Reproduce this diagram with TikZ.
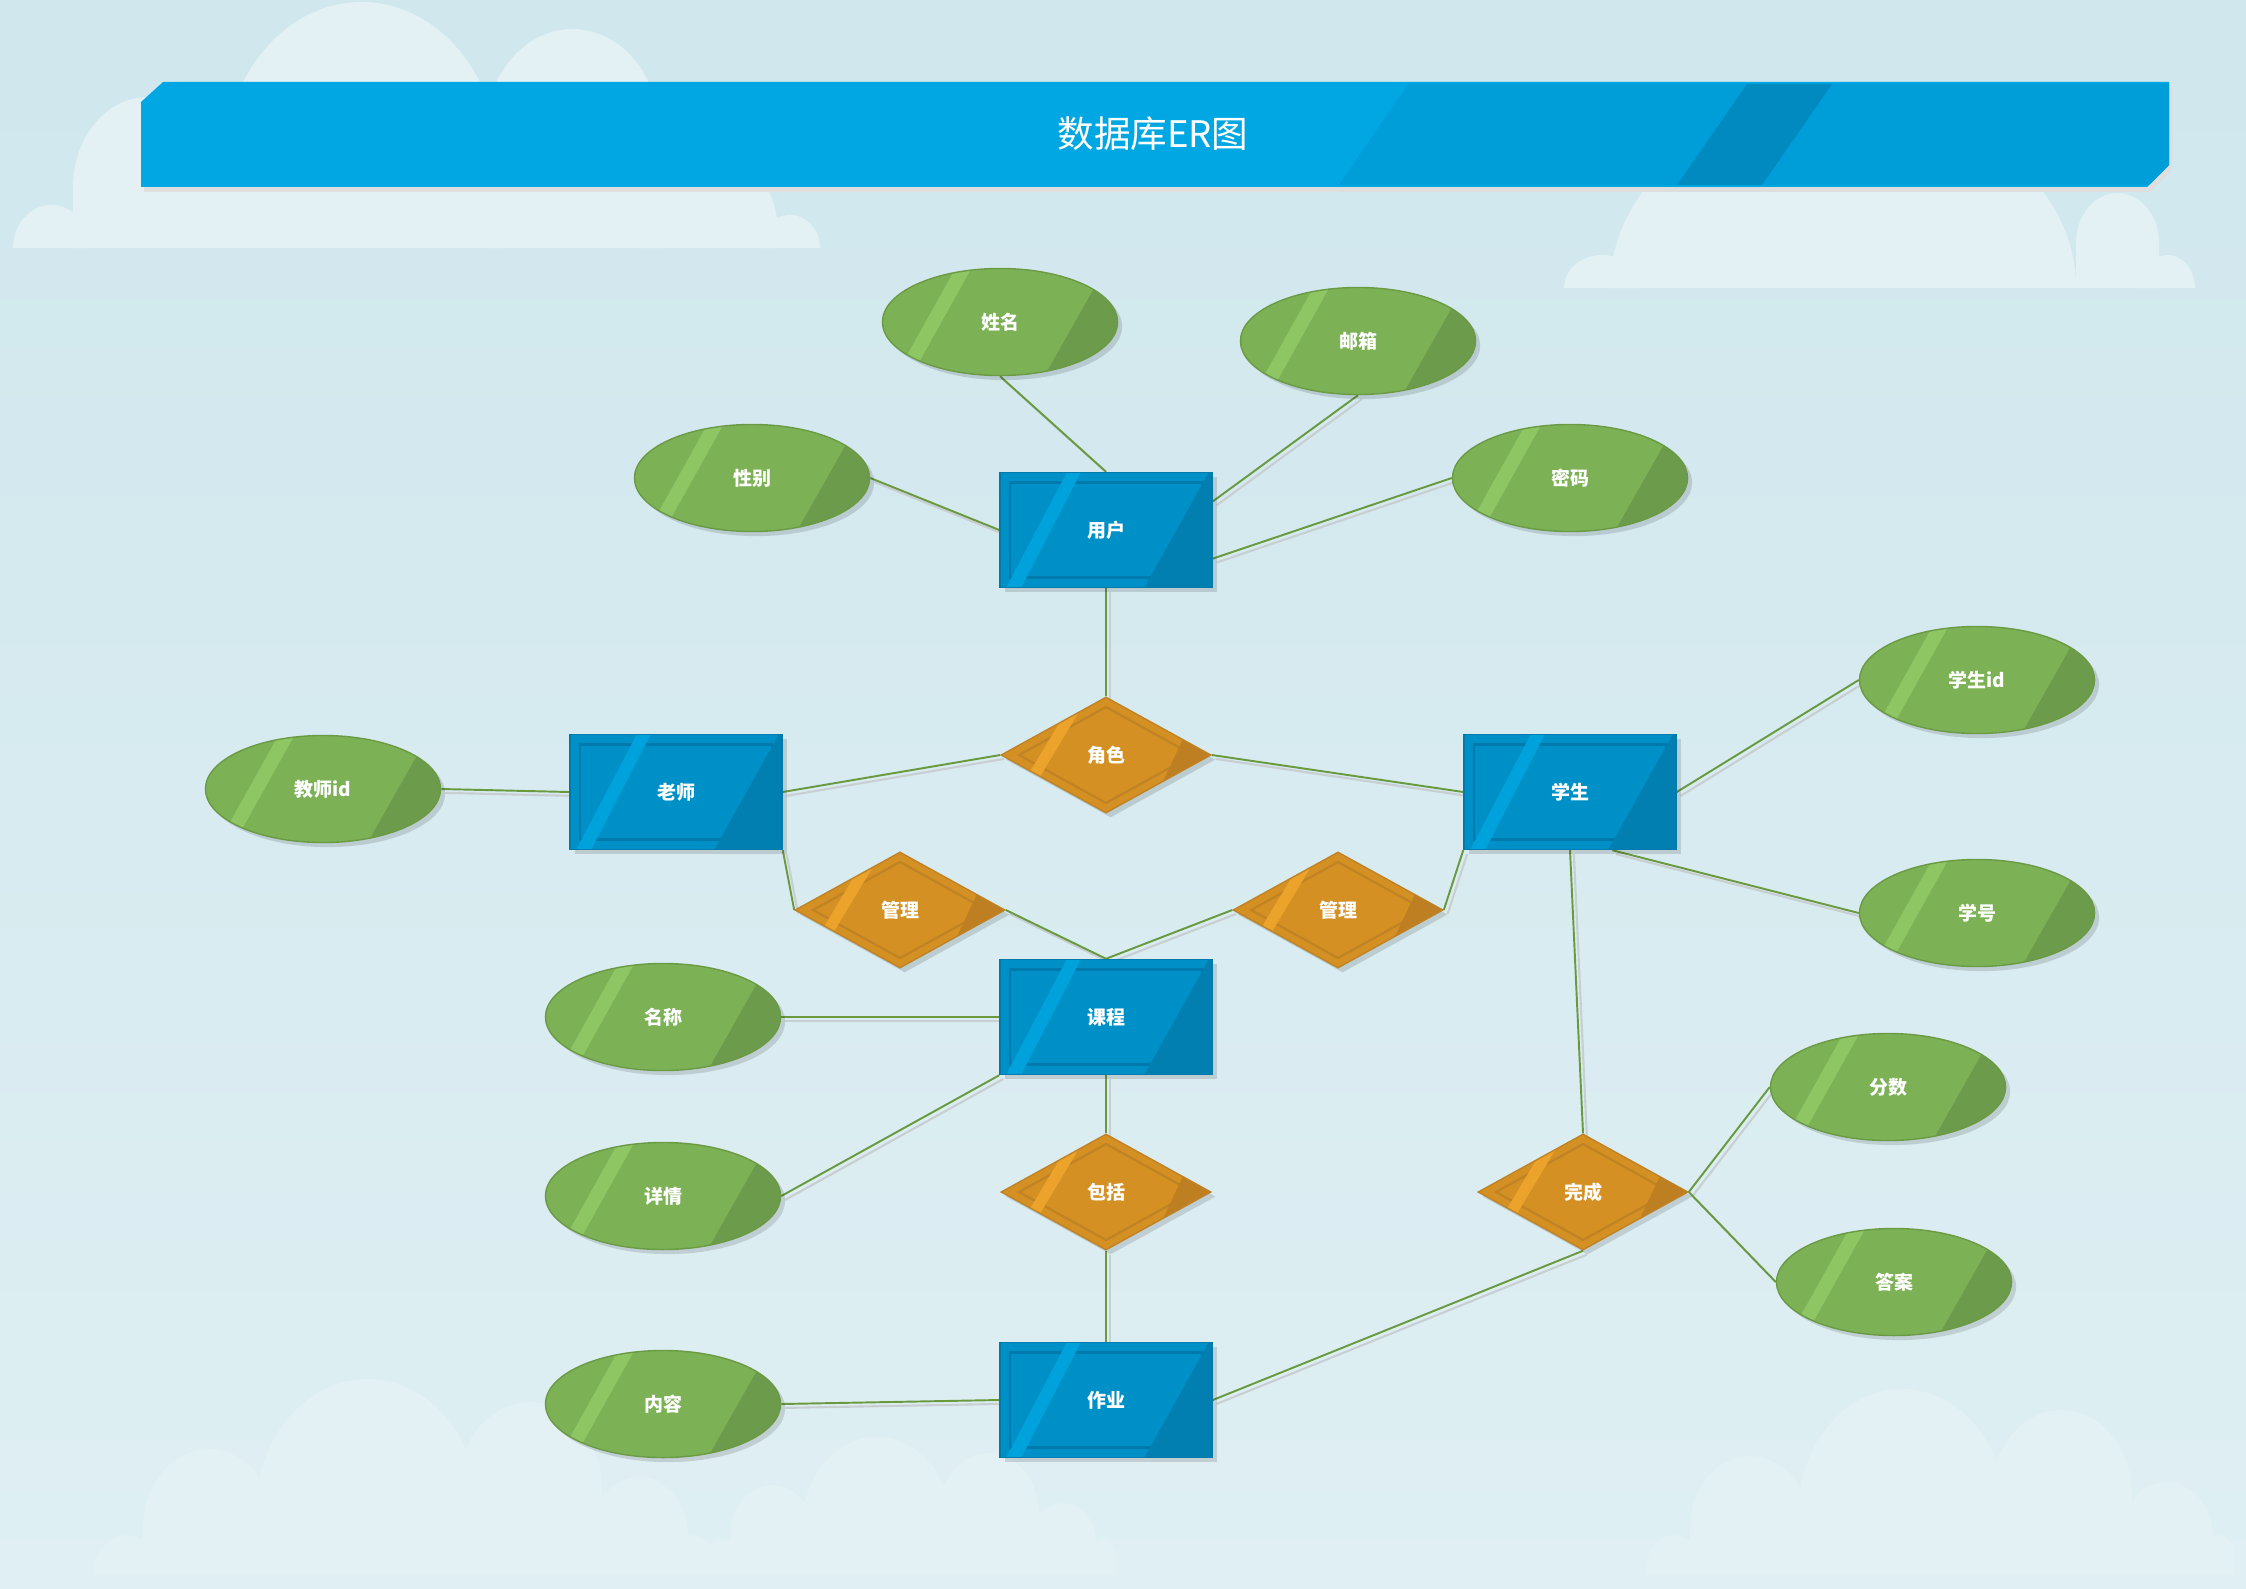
\documentclass[tikz,border=0pt]{standalone}
\usepackage{fontspec}
\setmainfont{Noto Sans CJK SC}
\usetikzlibrary{shapes.geometric,shadows}
\definecolor{bgtop}{HTML}{CFE7ED}
\definecolor{bgbot}{HTML}{DFEFF3}
\definecolor{cloudc}{HTML}{E3F1F4}
\definecolor{barblue}{HTML}{00A7E3}
\definecolor{bardark}{HTML}{009ED8}
\definecolor{barstripe}{HTML}{008AC0}
\definecolor{entfill}{HTML}{0090C8}
\definecolor{entlite}{HTML}{00A2DC}
\definecolor{entdark}{HTML}{007FB0}
\definecolor{entline}{HTML}{0079AD}
\definecolor{relfill}{HTML}{D49022}
\definecolor{rellite}{HTML}{EBA32C}
\definecolor{reldark}{HTML}{BD7F22}
\definecolor{relline}{HTML}{BF8326}
\definecolor{attfill}{HTML}{7CB156}
\definecolor{attlite}{HTML}{8DC663}
\definecolor{attdark}{HTML}{6C9B4C}
\definecolor{attline}{HTML}{6B9A45}
\definecolor{linkgreen}{HTML}{6A9940}
\definecolor{linkshadow}{HTML}{C8CFD2}
\newcommand{\erfont}{\fontsize{5.4}{6.5}\selectfont\bfseries}
\pgfdeclarelayer{back}
\pgfdeclarelayer{links}
\pgfsetlayers{back,links,main}
\tikzset{
  shade/.style    = {drop shadow={shadow xshift=1.3pt, shadow yshift=-1.3pt,
                     fill=black, opacity=0.13}},
  at centre/.code = {\pgftransformreset
                     \pgftransformshift{\pgfpointanchor{path picture bounding box}{center}}},
  entity/.style   = {rectangle, minimum width=2.12cm, minimum height=1.15cm,
                     fill=entfill, draw=entline, line width=0.4pt, shade,
                     text=white, font=\erfont,
                     path picture={
                       \begin{scope}[at centre]
                       \draw[entline, line width=0.6pt] (-96,-47.5) rectangle (96,47.5);
                       \fill[entlite] (-38,-60) -- (-24,-60) -- (-86,60) -- (-101,60) -- cycle;
                       \fill[entdark] (104,-60) -- (112,-60) -- (112,60) -- (37,60) -- cycle;
                       \end{scope}}},
  relation/.style = {diamond, minimum width=2.1cm, minimum height=1.16cm,
                     inner sep=0pt, fill=relfill, draw=relline, line width=0.4pt,
                     shade, text=white, font=\erfont,
                     path picture={
                       \begin{scope}[at centre]
                       \draw[relline, line width=0.6pt] (-87,0) -- (0,-48) -- (87,0) -- (0,48) -- cycle;
                       \fill[rellite] (-30,-60) -- (-17,-60) -- (-89,60) -- (-102,60) -- cycle;
                       \fill[reldark] (98,-60) -- (120,-60) -- (120,60) -- (41,60) -- cycle;
                       \end{scope}}},
  attrib/.style   = {ellipse, minimum width=2.35cm, minimum height=1.07cm,
                     inner sep=0pt, fill=attfill, draw=attline, line width=0.4pt,
                     shade, text=white, font=\erfont,
                     path picture={
                       \begin{scope}[at centre]
                       \fill[attlite] (-41,-60) -- (-25,-60) -- (-92,60) -- (-108,60) -- cycle;
                       \fill[attdark] (109,-60) -- (130,-60) -- (130,60) -- (41,60) -- cycle;
                       \end{scope}}},
  link/.style     = {draw=linkgreen, line width=0.55pt,
                     preaction={draw=linkshadow, line width=0.6pt,
                       transform canvas={xshift=1.1pt, yshift=-1.1pt}}},
}

\begin{document}
\begin{tikzpicture}[x=0.01cm, y=-0.01cm]
\useasboundingbox (0,0) rectangle (2246,1588);
% ---------- background and clouds ----------
\begin{pgfonlayer}{back}
\shade[top color=bgtop, bottom color=bgbot] (0,0) rectangle (2246,1588);
\foreach \a/\b/\t/\base in {223/500/2/248, 485/660/29/248, 640/778/150/248,
    73/223/97/248, 13/90/205/248, 760/820/215/248,
    1610/2076/100/288, 2076/2159/193/288, 1564/1640/255/288, 2140/2195/255/288,
    255/480/1379/1575, 458/602/1402/1575, 143/275/1449/1575, 590/688/1477/1575,
    93/160/1535/1575, 670/716/1535/1575,
    802/952/1437/1575, 938/1039/1453/1575, 730/815/1485/1575, 1030/1096/1503/1575,
    702/740/1540/1575, 1090/1117/1540/1575,
    1798/2006/1389/1575, 1991/2132/1410/1575, 1690/1810/1456/1575, 2120/2213/1482/1575,
    1647/1700/1535/1575, 2200/2235/1535/1575}
  \fill[cloudc] (\a,\base) -- (\a,{\t+min(0.6*(\b-\a),\base-\t)})
    arc[start angle=180, end angle=360, x radius={(\b-\a)/2},
        y radius={min(0.6*(\b-\a),\base-\t)}]
    -- (\b,\base) -- cycle;
\end{pgfonlayer}
% ---------- title bar ----------
\fill[black!13] (166,87) -- (2172,87) -- (2172,170) -- (2150,192) -- (144,192) -- (144,107) -- cycle;
\fill[barblue] (163,82) -- (2169,82) -- (2169,165) -- (2147,187) -- (141,187) -- (141,102) -- cycle;
\begin{scope}
\clip (163,82) -- (2169,82) -- (2169,165) -- (2147,187) -- (141,187) -- (141,102) -- cycle;
\fill[bardark] (1408,84) -- (2172,84) -- (2172,185) -- (1339,185) -- cycle;
\fill[barstripe] (1747,84) -- (1832,84) -- (1762,185) -- (1677,185) -- cycle;
\end{scope}
\node[text=white, font=\fontsize{10.4}{12}\selectfont] (title) at (1153,134) {数据库ER图};
% ---------- entities ----------
\node[entity] (yonghu) at (1106,530) {用户};
\node[entity] (laoshi) at (676,792) {老师};
\node[entity] (xuesheng) at (1570,792) {学生};
\node[entity] (kecheng) at (1106,1017) {课程};
\node[entity] (zuoye) at (1106,1400) {作业};
% ---------- relations ----------
\node[relation] (juese) at (1106,755) {角色};
\node[relation] (guanliA) at (900,910) {管理};
\node[relation] (guanliB) at (1338,910) {管理};
\node[relation] (baokuo) at (1106,1192) {包括};
\node[relation] (wancheng) at (1583,1192) {完成};
% ---------- attributes ----------
\node[attrib] (xingming) at (1000,322) {姓名};
\node[attrib] (youxiang) at (1358,341) {邮箱};
\node[attrib] (xingbie) at (752,478) {性别};
\node[attrib] (mima) at (1570,478) {密码};
\node[attrib] (xsid) at (1977,680) {学生id};
\node[attrib] (jsid) at (323,789) {教师id};
\node[attrib] (xuehao) at (1977,913) {学号};
\node[attrib] (mingcheng) at (663,1017) {名称};
\node[attrib] (fenshu) at (1888,1087) {分数};
\node[attrib] (xiangqing) at (663,1196) {详情};
\node[attrib] (daan) at (1894,1282) {答案};
\node[attrib] (neirong) at (663,1404) {内容};
% ---------- connectors ----------
\begin{pgfonlayer}{links}
\draw[link] (xingming.south) -- (yonghu.north);
\draw[link] (youxiang.south) -- (yonghu.15);
\draw[link] (xingbie.east) -- (yonghu.west);
\draw[link] (mima.west) -- (yonghu.-15);
\draw[link] (yonghu.south) -- (juese.north);
\draw[link] (juese.west) -- (laoshi.east);
\draw[link] (juese.east) -- (xuesheng.west);
\draw[link] (jsid.east) -- (laoshi.west);
\draw[link] (laoshi.south east) -- (guanliA.west);
\draw[link] (guanliA.east) -- (kecheng.north);
\draw[link] (guanliB.west) -- (kecheng.north);
\draw[link] (guanliB.east) -- (xuesheng.south west);
\draw[link] (xsid.west) -- (xuesheng.east);
\draw[link] (xuehao.west) -- (xuesheng.-54.5);
\draw[link] (xuesheng.south) -- (wancheng.north);
\draw[link] (mingcheng.east) -- (kecheng.west);
\draw[link] (xiangqing.east) -- (kecheng.south west);
\draw[link] (kecheng.south) -- (baokuo.north);
\draw[link] (baokuo.south) -- (zuoye.north);
\draw[link] (neirong.east) -- (zuoye.west);
\draw[link] (zuoye.east) -- (wancheng.south);
\draw[link] (wancheng.east) -- (fenshu.west);
\draw[link] (wancheng.east) -- (daan.west);
\end{pgfonlayer}
\end{tikzpicture}
\end{document}
